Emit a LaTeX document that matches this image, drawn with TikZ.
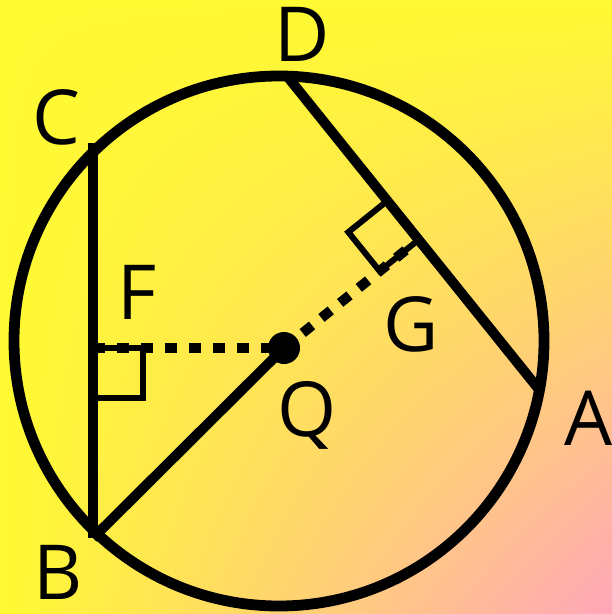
\documentclass[tikz,border=0pt]{standalone}
\usepackage{fontspec}
\setmainfont{Open Sans}
\usetikzlibrary{calc, shadings}
\definecolor{bgyellow}{RGB}{255,250,50}
\definecolor{bgpink}{RGB}{255,166,186}
\tikzset{
    rim/.style={draw=black, line width=0.27cm},
    chord/.style={draw=black, line width=0.25cm},
    dotline/.style={draw=black, line width=0.25cm, dash pattern=on 0.3cm off 0.3cm},
    rightmark/.style={draw=black, line width=0.15cm},
    ptlabel/.style={font=\fontsize{54}{58}\selectfont, inner sep=0pt}
}

\begin{document}
\begin{tikzpicture}
    \shade[upper left=bgyellow, upper right=bgyellow, lower left=bgyellow, lower right=bgpink] (0,0) rectangle (15.3,-15.35);
    \useasboundingbox (0,0) rectangle (15.3,-15.35);

    % points
    \coordinate (O) at (6.975,-8.525);
    \coordinate (Q) at (7.1,-8.7);
    \coordinate (C) at (2.325,-3.575);
    \coordinate (B) at (2.325,-13.45);
    \coordinate (D) at (7.175,-1.9);
    \coordinate (A) at (13.525,-9.8);
    \coordinate (F) at (2.325,-8.7);
    \coordinate (G) at ($(D)!(Q)!(A)$);

    \draw[rim] (O) circle [radius=6.625cm];

    \draw[chord] (C) -- (B);
    \draw[chord] (D) -- (A);
    \draw[chord] (Q) -- (B);

    % right angles
    \draw[rightmark] (F) rectangle ++(1.25,-1.25);
    \coordinate (gd) at ($(G)!1.25cm!(D)$);
    \coordinate (gq) at ($(G)!1.25cm!(Q)$);
    \draw[rightmark] (G) -- (gd) -- ($(gd)+(gq)-(G)$) -- (gq) -- cycle;

    \draw[dotline] (F) -- (Q);
    \draw[dotline] (Q) -- (G);
    \fill (Q) circle [radius=0.4cm];

    \node[ptlabel] (lc) at (1.4,-2.925) {C};
    \node[ptlabel] (ld) at (7.55,-0.85) {D};
    \node[ptlabel] (lf) at (3.425,-7.3) {F};
    \node[ptlabel] (lg) at (10.275,-8.1) {G};
    \node[ptlabel] (lq) at (7.675,-10.375) {Q};
    \node[ptlabel] (la) at (14.725,-10.45) {A};
    \node[ptlabel] (lb) at (1.45,-14.3) {B};
\end{tikzpicture}
\end{document}
